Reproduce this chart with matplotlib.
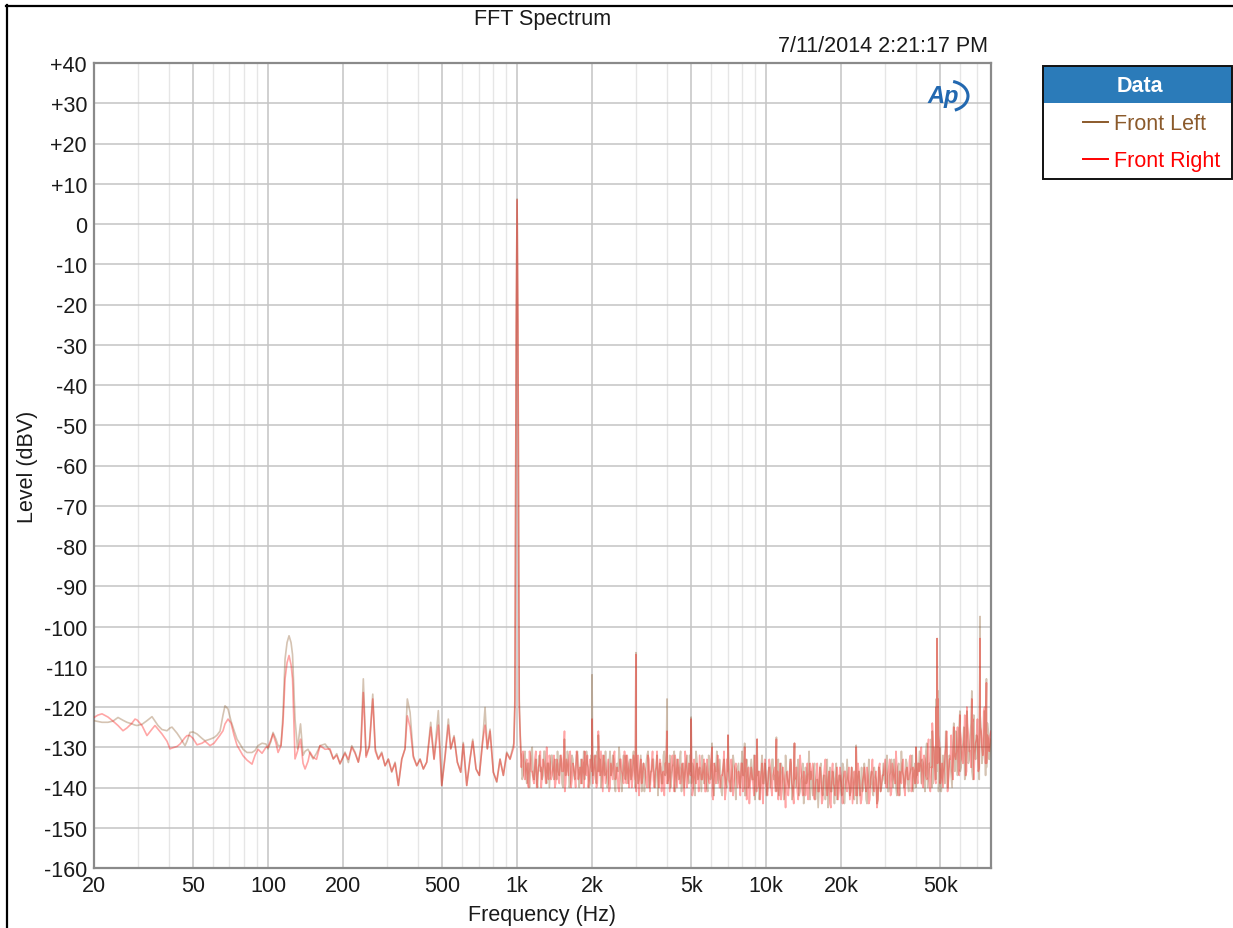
import matplotlib
matplotlib.use("Agg")
import matplotlib.pyplot as plt
import numpy as np
from matplotlib.patches import Rectangle, Arc
from matplotlib.lines import Line2D
from matplotlib.ticker import FixedLocator, FuncFormatter, NullFormatter

plt.rcParams["font.family"] = ["Liberation Sans", "DejaVu Sans"]

W, H = 1233, 929

# ─── data: 20 Hz .. ~950 Hz ───────────────────────────────────────────────────
LOW_F = [20.0, 20.75, 21.54, 22.76, 23.84, 24.97, 26.15, 27.13, 28.42, 29.22,
         29.76, 31.17, 32.64, 34.19, 35.15, 36.14, 37.50, 39.28, 40.38, 41.14,
         43.09, 44.30, 46.40, 47.26, 48.59, 49.96, 51.84, 54.29, 55.82, 58.46,
         60.66, 62.37, 64.13, 65.93, 67.16, 69.05, 71.00, 72.99, 75.05, 77.16,
         79.33, 82.32, 86.22, 88.64, 91.14, 94.58, 98.13, 99.97, 102.8, 104.7,
         107.6, 109.7, 112.7, 114.8, 117.0, 119.2, 121.4, 123.7, 125.4, 128.3,
         131.3, 135.0, 138.2, 140.8, 144.7, 147.4, 151.6, 156.5, 161.7, 169.4,
         177.3, 182.8, 188.7, 194.5, 203.7, 210.1, 216.8, 223.5, 230.4, 235.6,
         241.3, 247.5, 255.1, 263.3, 269.6, 277.2, 286.0, 295.0, 304.1, 313.8,
         323.6, 333.6, 344.3, 354.8, 362.4, 371.7, 383.2, 395.5, 407.7, 420.4,
         433.7, 450.0, 464.0, 482.8, 498.3, 513.7, 529.6, 541.5, 558.3, 575.5,
         593.9, 608.0, 627.8, 647.1, 663.6, 684.2, 705.4, 727.9, 743.6, 759.4,
         778.7, 802.8, 828.6, 854.2, 880.7, 908.8, 937.0]
LOW_L = [-123.4, -123.6, -123.8, -123.8, -123.5, -122.6, -123.3, -123.8, -124.2, -124.5,
         -124.6, -124.3, -123.4, -122.4, -123.5, -124.6, -125.6, -125.9, -125.2, -125.0,
         -126.5, -127.6, -129.6, -128.5, -126.3, -126.2, -126.7, -127.8, -128.4, -128.0,
         -127.6, -127.0, -126.0, -122.0, -119.7, -120.5, -123.5, -125.8, -128.0, -129.2,
         -130.5, -131.3, -131.3, -130.8, -129.6, -129.0, -129.2, -130.4, -128.5, -126.3,
         -128.0, -129.6, -129.6, -122.0, -108.1, -104.0, -102.3, -104.0, -107.0, -123.0,
         -130.4, -124.2, -132.0, -131.0, -130.5, -131.5, -132.9, -131.5, -129.6, -129.2,
         -130.8, -132.9, -131.6, -134.2, -131.2, -133.8, -129.6, -131.2, -133.7, -130.4,
         -113.0, -132.1, -129.6, -116.8, -130.4, -132.9, -131.2, -134.6, -132.9, -136.2,
         -133.7, -139.5, -132.9, -130.4, -118.0, -121.3, -132.1, -134.6, -132.9, -135.4,
         -133.7, -123.8, -132.9, -120.9, -139.5, -132.1, -123.0, -130.4, -127.1, -133.7,
         -136.2, -128.8, -139.5, -132.9, -128.0, -135.4, -137.0, -128.0, -120.1, -130.4,
         -125.5, -136.2, -138.7, -132.9, -137.0, -131.2, -132.9]
LOW_R = [-122.6, -122.0, -121.7, -122.5, -123.5, -124.6, -125.9, -125.2, -124.0, -123.0,
         -123.2, -124.6, -127.1, -125.5, -124.6, -125.5, -126.7, -128.5, -130.4, -130.2,
         -129.8, -129.2, -127.6, -127.1, -127.1, -127.8, -129.4, -129.0, -128.5, -129.6,
         -129.0, -128.0, -127.0, -125.9, -124.2, -123.0, -124.0, -127.0, -129.5, -130.8,
         -132.1, -133.2, -134.2, -132.0, -130.5, -131.5, -130.0, -130.0, -128.0, -126.7,
         -129.0, -131.3, -129.6, -124.0, -113.0, -109.0, -107.2, -109.5, -113.0, -132.9,
         -131.0, -128.0, -134.0, -135.4, -133.5, -131.2, -132.5, -133.0, -129.6, -130.5,
         -130.4, -132.9, -132.0, -134.0, -131.5, -133.0, -130.0, -131.5, -133.7, -130.8,
         -116.4, -132.5, -129.9, -118.0, -131.0, -133.0, -131.5, -134.6, -133.0, -136.0,
         -134.0, -139.5, -133.0, -130.4, -122.2, -125.0, -132.5, -134.6, -133.0, -135.4,
         -133.7, -125.0, -133.0, -124.5, -139.5, -132.5, -124.5, -130.4, -127.5, -133.7,
         -136.2, -129.2, -139.5, -133.0, -128.5, -135.4, -137.0, -128.5, -124.5, -130.4,
         -126.0, -136.2, -138.5, -133.0, -137.0, -131.5, -133.0]

# 1 kHz test tone
PEAK_F = [970, 980, 986, 992, 1000, 1008, 1014, 1020, 1030]
PEAK_L = [-129, -118, -70, -25, 6.2, -25, -70, -118, -127]
PEAK_R = [-130, -120, -72, -25, 6.0, -25, -72, -120, -128]

# noise floor 1.04 kHz .. 80 kHz; even bins (A) and odd bins (B), evenly spaced on the log axis
NOISE_F_START, NOISE_F_STOP = 1040, 80000
NOISE_L_A = [
    -133, -137, -131, -139, -134, -136, -130, -138, -133, -140, -132, -135, -137, -131, -139, -134, -136, -132, -138, -135,
    -131, -137, -133, -140, -130, -136, -134, -139, -132, -137, -135, -131, -140, -133, -136, -138, -131, -135, -139, -133,
    -134, -138, -131, -136, -140, -132, -137, -135, -139, -131, -136, -133, -141, -134, -130, -138, -135, -137, -132, -139,
    -133, -137, -131, -140, -135, -138, -132, -136, -141, -134, -131, -139, -136, -133, -140, -132, -137, -135, -139, -131,
    -136, -139, -132, -137, -134, -141, -133, -138, -131, -136, -140, -134, -137, -132, -139, -135, -142, -133, -136, -138,
    -132, -139, -135, -141, -133, -137, -140, -134, -131, -138, -136, -142, -133, -139, -135, -137, -141, -132, -138, -136,
    -134, -140, -131, -137, -142, -135, -139, -133, -138, -143, -134, -136, -140, -132, -139, -137, -141, -135, -138, -133,
    -137, -141, -133, -139, -135, -143, -132, -138, -140, -134, -142, -136, -139, -133, -141, -137, -144, -135, -138, -131,
    -136, -142, -134, -139, -145, -135, -140, -137, -143, -133, -138, -141, -136, -144, -134, -139, -137, -142, -135, -140,
    -133, -139, -141, -136, -143, -134, -138, -142, -135, -140, -137, -144, -133, -139, -141, -135, -138, -143, -136, -140,
    -134, -139, -132, -141, -136, -138, -133, -140, -135, -142, -131, -137, -139, -134, -141, -136, -132, -138, -140, -134,
    -131, -139, -134, -141, -129, -137, -135, -140, -130, -138, -127, -136, -141, -132, -139, -128, -137, -134, -140, -130,
    -126, -137, -124, -135, -129, -138, -123, -134, -127, -136, -122, -133, -128, -138, -125, -132, -121, -135, -126, -130]
NOISE_L_B = [
    -138, -132, -136, -134, -140, -131, -137, -135, -139, -133, -136, -138, -131, -137, -134, -140, -132, -136, -133, -138,
    -136, -132, -139, -134, -137, -131, -140, -135, -133, -138, -132, -137, -135, -139, -131, -136, -134, -140, -132, -137,
    -132, -139, -136, -133, -138, -135, -131, -140, -134, -137, -132, -139, -135, -136, -133, -141, -132, -138, -136, -134,
    -138, -133, -136, -131, -139, -135, -141, -134, -137, -132, -140, -136, -133, -138, -135, -142, -134, -139, -132, -137,
    -133, -137, -140, -135, -131, -138, -136, -133, -141, -134, -137, -132, -139, -136, -134, -140, -131, -138, -135, -141,
    -137, -134, -140, -132, -138, -135, -142, -136, -139, -133, -141, -135, -137, -140, -132, -139, -136, -134, -143, -135,
    -139, -135, -137, -142, -133, -140, -136, -138, -132, -141, -137, -143, -135, -139, -134, -142, -136, -140, -133, -138,
    -140, -136, -142, -134, -138, -141, -136, -139, -133, -143, -137, -140, -135, -142, -138, -134, -141, -139, -136, -143,
    -139, -136, -143, -138, -140, -134, -142, -137, -139, -145, -135, -141, -138, -136, -143, -137, -140, -134, -144, -138,
    -138, -142, -135, -140, -137, -144, -136, -139, -141, -134, -143, -138, -140, -136, -142, -137, -144, -135, -141, -138,
    -138, -135, -141, -137, -133, -140, -136, -142, -134, -138, -136, -140, -133, -139, -137, -135, -141, -134, -137, -136,
    -135, -133, -138, -131, -140, -134, -128, -139, -133, -136, -141, -130, -138, -135, -126, -140, -132, -137, -129, -136,
    -132, -128, -136, -130, -125, -137, -129, -133, -124, -138, -130, -127, -135, -122, -134, -129, -137, -124, -133, -128]
NOISE_R_A = [
    -135, -131, -138, -133, -140, -132, -136, -139, -131, -137, -134, -140, -133, -136, -130, -138, -134, -137, -132, -139,
    -134, -139, -132, -136, -141, -133, -137, -131, -138, -135, -140, -132, -136, -139, -134, -131, -137, -140, -133, -136,
    -137, -132, -139, -135, -131, -141, -134, -137, -133, -140, -136, -132, -138, -135, -141, -133, -137, -131, -139, -135,
    -136, -140, -132, -138, -134, -142, -133, -137, -135, -139, -132, -141, -134, -138, -136, -131, -140, -134, -137, -142,
    -134, -138, -141, -133, -137, -132, -140, -135, -139, -134, -142, -133, -138, -136, -131, -140, -137, -134, -141, -135,
    -138, -133, -141, -136, -139, -132, -143, -135, -138, -134, -140, -137, -131, -141, -136, -139, -133, -142, -135, -137,
    -136, -142, -134, -140, -133, -138, -144, -135, -139, -132, -141, -137, -143, -134, -138, -136, -142, -133, -140, -137,
    -135, -139, -143, -134, -140, -137, -145, -136, -139, -133, -141, -138, -135, -143, -132, -140, -136, -142, -134, -139,
    -138, -134, -143, -137, -141, -135, -144, -138, -133, -142, -136, -145, -134, -140, -137, -143, -135, -141, -138, -136,
    -141, -135, -139, -144, -136, -142, -134, -140, -143, -137, -139, -135, -144, -138, -133, -141, -136, -143, -134, -139,
    -137, -133, -140, -135, -142, -134, -138, -131, -141, -136, -139, -133, -142, -135, -138, -132, -140, -136, -134, -139,
    -136, -130, -140, -133, -138, -128, -141, -135, -131, -139, -134, -129, -137, -140, -132, -126, -138, -133, -136, -131,
    -133, -125, -137, -128, -134, -122, -136, -127, -131, -124, -138, -129, -123, -135, -126, -132, -120, -134, -128, -127]
NOISE_R_B = [
    -132, -137, -134, -139, -131, -136, -138, -133, -140, -135, -131, -137, -134, -139, -136, -132, -138, -135, -140, -133,
    -138, -133, -136, -131, -139, -135, -132, -140, -134, -137, -131, -138, -135, -133, -140, -136, -132, -138, -134, -139,
    -134, -140, -133, -137, -136, -132, -139, -135, -141, -134, -138, -131, -137, -140, -133, -136, -139, -134, -132, -140,
    -133, -138, -135, -141, -132, -137, -139, -134, -136, -140, -133, -138, -131, -140, -135, -137, -133, -141, -136, -134,
    -139, -134, -137, -132, -141, -136, -133, -139, -135, -138, -131, -140, -134, -137, -142, -133, -139, -136, -132, -138,
    -135, -141, -133, -138, -136, -142, -134, -139, -132, -140, -137, -135, -143, -133, -138, -141, -136, -139, -134, -140,
    -138, -134, -141, -136, -143, -135, -139, -137, -142, -134, -140, -136, -138, -144, -133, -140, -137, -135, -142, -136,
    -141, -136, -138, -143, -135, -140, -137, -142, -134, -139, -144, -136, -141, -138, -135, -142, -137, -140, -143, -134,
    -136, -142, -139, -134, -141, -137, -143, -135, -140, -138, -144, -136, -139, -142, -135, -141, -137, -144, -136, -140,
    -137, -143, -135, -140, -138, -142, -136, -144, -139, -135, -141, -137, -143, -136, -140, -138, -145, -135, -141, -137,
    -135, -140, -137, -133, -141, -136, -139, -135, -142, -137, -134, -140, -136, -138, -133, -141, -135, -139, -137, -134,
    -134, -139, -132, -137, -131, -140, -135, -129, -138, -133, -127, -139, -134, -136, -130, -141, -133, -127, -138, -132,
    -130, -136, -126, -133, -129, -137, -124, -131, -135, -123, -132, -128, -136, -125, -130, -121, -134, -127, -131, -126]

# harmonics / spurs sitting on the floor
SPIKE_F = [1550, 2000, 2120, 3000, 4000, 5000, 6070, 7030, 8200, 9200, 11000, 13000,
           23000, 40000, 46500, 48200, 48600, 49000, 56700, 60000, 64000, 67000, 72300, 76700]
SPIKE_L = [-128, -112, -127, -106.5, -118, -122.5, -129, -127, -129, -128, -127.5, -129,
           -129.5, -130, -126, -118, -103, -116, -124, -121, -121, -116, -97.5, -113]
SPIKE_R = [-126, -123, -126, -107, -126, -123, -130, -127, -130, -128, -128, -129,
           -130, -130, -124, -120, -103, -118, -125, -122, -120, -118, -103, -114]

X_TICKS = [20, 50, 100, 200, 500, 1000, 2000, 5000, 10000, 20000, 50000]
X_LABELS = ["20", "50", "100", "200", "500", "1k", "2k", "5k", "10k", "20k", "50k"]
X_MINOR = [30, 40, 60, 70, 80, 90, 300, 400, 600, 700, 800, 900,
           3000, 4000, 6000, 7000, 8000, 9000, 30000, 40000, 60000, 70000, 80000]
Y_TICKS = list(range(-160, 41, 10))

LEFT_COLOR = "#8B5A2B"
RIGHT_COLOR = "#FF0000"
TEXT_COLOR = "#1a1a1a"
FS = 15.5


def channel(noise_a, noise_b, spikes, low, peak):
    noise = np.ravel(np.column_stack([noise_a, noise_b]))
    f = np.concatenate([LOW_F, PEAK_F,
                        np.geomspace(NOISE_F_START, NOISE_F_STOP, len(noise)),
                        SPIKE_F])
    v = np.concatenate([low, peak, noise, spikes])
    order = np.argsort(f)
    return f[order], v[order]


def fx(x):
    return x / W


def fy(y):
    return 1 - y / H


fig = plt.figure(figsize=(W / 100, H / 100), dpi=100)
ax = fig.add_axes([fx(94), fy(869), (991 - 94) / W, (869 - 64) / H])

fl, vl = channel(NOISE_L_A, NOISE_L_B, SPIKE_L, LOW_L, PEAK_L)
fr, vr = channel(NOISE_R_A, NOISE_R_B, SPIKE_R, LOW_R, PEAK_R)
ax.plot(fl, vl, color=LEFT_COLOR, lw=1.2, alpha=0.36, zorder=3)
ax.plot(fr, vr, color=RIGHT_COLOR, lw=1.2, alpha=0.35, zorder=4)

ax.set_xscale("log")
ax.set_xlim(20, 80000)
ax.set_ylim(-160, 40)
ax.xaxis.set_major_locator(FixedLocator(X_TICKS))
ax.xaxis.set_major_formatter(FuncFormatter(lambda v, p: X_LABELS[X_TICKS.index(round(v))] if round(v) in X_TICKS else ""))
ax.xaxis.set_minor_locator(FixedLocator(X_MINOR))
ax.xaxis.set_minor_formatter(NullFormatter())
ax.yaxis.set_major_locator(FixedLocator(Y_TICKS))
ax.yaxis.set_major_formatter(FuncFormatter(lambda v, p: f"+{int(v)}" if v > 0 else f"{int(v)}"))

ax.grid(which="major", color="#c4c4c4", lw=1.1, zorder=0)
ax.grid(which="minor", axis="x", color="#e6e6e6", lw=1.0, zorder=0)
ax.set_axisbelow(True)
ax.tick_params(which="both", length=0, labelsize=FS, colors=TEXT_COLOR)
ax.tick_params(axis="x", pad=5)
ax.tick_params(axis="y", pad=5)
for s in ax.spines.values():
    s.set_color("#8a8a8a")
    s.set_linewidth(1.6)

ax.set_xlabel("Frequency (Hz)", fontsize=FS, color=TEXT_COLOR)
ax.xaxis.set_label_coords(0.5, (869 - 905) / 805)
ax.set_ylabel("Level (dBV)", fontsize=FS, color=TEXT_COLOR)
ax.yaxis.set_label_coords((38 - 94) / 897, 0.5)

fig.text(fx(542.5), fy(20), "FFT Spectrum", ha="center", va="center", fontsize=FS, color=TEXT_COLOR)
fig.text(fx(988), fy(46), "7/11/2014 2:21:17 PM", ha="right", va="center", fontsize=FS, color=TEXT_COLOR)

# AP logo
fig.text(fx(943), fy(97), "Ap", ha="center", va="center", fontsize=17, fontweight="bold",
         fontstyle="italic", color="#2268b0")
fig.add_artist(Arc((fx(948), fy(97)), 40 / W, 30 / H, theta1=-70, theta2=75,
                   transform=fig.transFigure, color="#2268b0", lw=2.2))

# outer frame of the screenshot
fig.add_artist(Line2D([fx(6), 1], [fy(6.5), fy(6.5)], transform=fig.transFigure, color="black", lw=1.6))
fig.add_artist(Line2D([fx(6.5), fx(6.5)], [fy(6), 0], transform=fig.transFigure, color="black", lw=1.6))

# legend box
lx0, lx1, ly0, ly1, hy = 1043, 1232, 67, 180, 104
fig.add_artist(Rectangle((fx(lx0), fy(hy)), (lx1 - lx0) / W, (hy - ly0) / H,
                         transform=fig.transFigure, facecolor="#2b7bb9", edgecolor="none"))
fig.add_artist(Rectangle((fx(lx0), fy(ly1)), (lx1 - lx0) / W, (ly1 - ly0) / H,
                         transform=fig.transFigure, facecolor="none", edgecolor="#111111", lw=1.4))
fig.text(fx(1140), fy(86), "Data", ha="center", va="center", fontsize=FS, fontweight="bold", color="white")
for yy, name, col in [(123, "Front Left", LEFT_COLOR), (160, "Front Right", RIGHT_COLOR)]:
    fig.add_artist(Line2D([fx(1083), fx(1108)], [fy(yy), fy(yy)], transform=fig.transFigure, color=col, lw=1.4))
    fig.text(fx(1114), fy(yy + 2), name, ha="left", va="center", fontsize=FS, color=col)

fig.savefig("out.png", dpi=100)
